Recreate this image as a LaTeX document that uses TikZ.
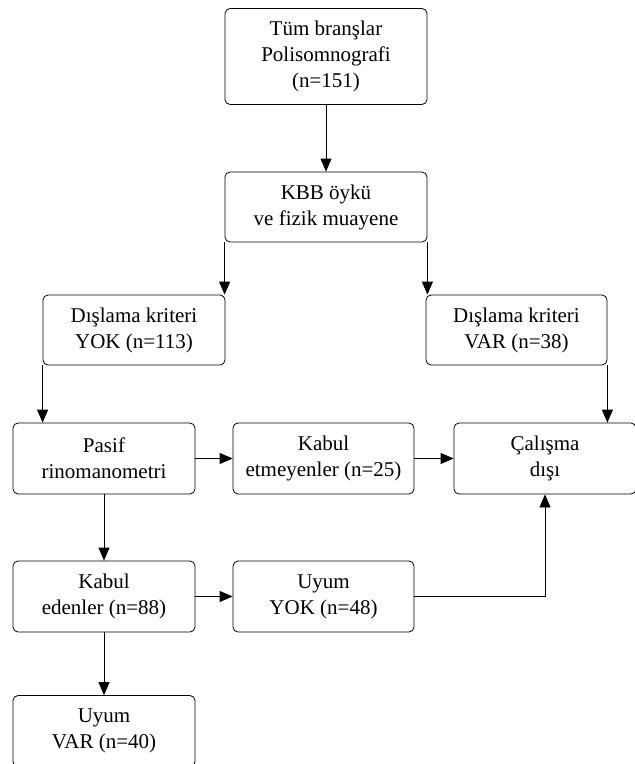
\documentclass[tikz,border=0pt]{standalone}
\usepackage{fontspec}
\setmainfont{Liberation Serif}
\usetikzlibrary{arrows.meta,positioning}

\begin{document}
\begin{tikzpicture}[x=1pt, y=-1pt, >={Triangle[length=13pt,width=11pt]},
  kutu/.style={draw, rounded corners=5pt, line width=0.8pt, align=center,
    minimum width=182pt, minimum height=71pt, inner sep=0pt,
    font=\fontsize{21}{26}\selectfont},
  ok/.style={->, line width=0.8pt}]
  \useasboundingbox (0,0) rectangle (635,764);

  % Ust kisim
  \node[kutu, minimum width=202pt, minimum height=96pt] (tum) at (326,56.5) {Tüm branşlar\\Polisomnografi\\(n=151)};
  \node[kutu, minimum width=202pt, minimum height=70pt] (kbb) at (326,207) {KBB öykü\\ve fizik muayene};

  % Dislama kriterleri
  \node[kutu, minimum height=70pt] (dyok) at (134,330) {Dışlama kriteri\\YOK (n=113)};
  \node[kutu, minimum width=181pt, minimum height=70pt] (dvar) at (516.5,330) {Dışlama kriteri\\VAR (n=38)};

  % Orta satir
  \node[kutu] (pasif) at (104,458.5) {Pasif\\rinomanometri};
  \node[kutu, minimum width=181pt] (ketm) at (323.5,458.5) {Kabul\\etmeyenler (n=25)};
  \node[kutu] (calisma) at (545,458.5) {Çalışma\\dışı};

  % Alt satirlar
  \node[kutu] (kabul) at (104,596.5) {Kabul\\edenler (n=88)};
  \node[kutu, minimum width=181pt] (uyok) at (323.5,596.5) {Uyum\\YOK (n=48)};
  \node[kutu] (uvar) at (104,731) {Uyum\\VAR (n=40)};

  % Oklar
  \draw[ok] (tum) -- (kbb);
  \draw[ok] (kbb.south west) -- (kbb.south west |- dyok.north);
  \draw[ok] (kbb.south east) -- (kbb.south east |- dvar.north);
  \draw[ok] (dyok.south west) -- (dyok.south west |- pasif.north);
  \draw[ok] (dvar.south east) -- (dvar.south east |- calisma.north);
  \draw[ok] (pasif) -- (ketm);
  \draw[ok] (ketm) -- (calisma);
  \draw[ok] (pasif) -- (kabul);
  \draw[ok] (kabul) -- (uyok);
  \draw[ok] (uyok.east) -| (calisma.south);
  \draw[ok] (kabul) -- (uvar);
\end{tikzpicture}
\end{document}
